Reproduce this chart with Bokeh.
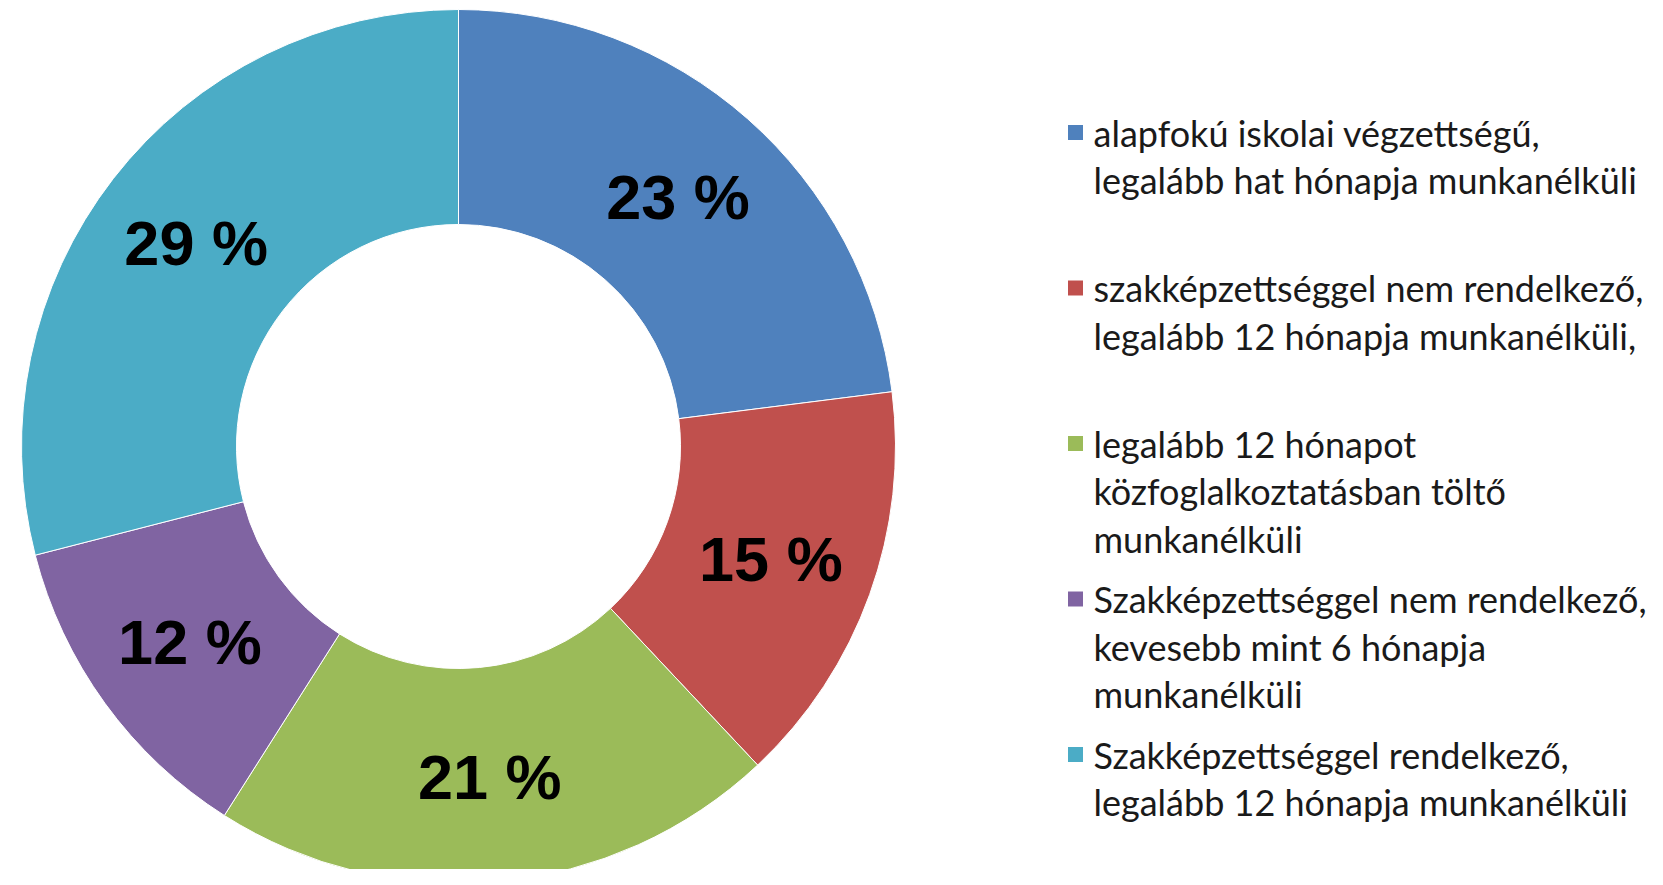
import math
from bokeh.plotting import figure
from bokeh.models import Range1d, ColumnDataSource
from bokeh.core.properties import value
from bokeh.embed import file_html
from bokeh.resources import INLINE

# ---- data ----
categories = [
    "alapfokú iskolai végzettségű,\nlegalább hat hónapja munkanélküli",
    "szakképzettséggel nem rendelkező,\nlegalább 12 hónapja munkanélküli,",
    "legalább 12 hónapot\nközfoglalkoztatásban töltő\nmunkanélküli",
    "Szakképzettséggel nem rendelkező,\nkevesebb mint 6 hónapja\nmunkanélküli",
    "Szakképzettséggel rendelkező,\nlegalább 12 hónapja munkanélküli",
]
shares = [23, 15, 21, 12, 29]
colors = ["#4F81BD", "#C0504D", "#9BBB59", "#8064A2", "#4BACC6"]

# ---- layout ----
W, H = 1647, 869
CX, CY = 458, 423
R_OUT, R_IN = 437, 222
R_LAB = 332

total = sum(shares)
starts, ends, mids = [], [], []
acc = 0.0
for s in shares:
    a0 = math.pi / 2 - 2 * math.pi * acc / total
    acc += s
    a1 = math.pi / 2 - 2 * math.pi * acc / total
    starts.append(a0)
    ends.append(a1)
    mids.append((a0 + a1) / 2)

src = ColumnDataSource(dict(start=starts, end=ends, color=colors))

p = figure(width=W, height=H, x_range=Range1d(0, W), y_range=Range1d(0, H),
           output_backend="svg", toolbar_location=None, min_border=0)
p.axis.visible = False
p.grid.visible = False
p.outline_line_color = None
p.background_fill_color = "white"
p.border_fill_color = "white"

p.annular_wedge(x=CX, y=CY, inner_radius=R_IN, outer_radius=R_OUT,
                start_angle="start", end_angle="end", direction="clock",
                fill_color="color", line_color="white", line_width=1, source=src)

lab_src = ColumnDataSource(dict(
    x=[CX + R_LAB * math.cos(m) for m in mids],
    y=[CY + R_LAB * math.sin(m) for m in mids],
    t=[f"{s} %" for s in shares],
))
p.text(x="x", y="y", text="t", source=lab_src, text_align="center",
       text_baseline="middle", text_font=value("Liberation Sans"),
       text_font_style="bold", text_font_size="63px", text_color="black")

# ---- legend (manual) ----
LEG_TOP = 737
LEG_STEP = 155.5
LINE_H = 47.5
SQ_X = 1075
TXT_X = 1093

sq_y = [LEG_TOP - i * LEG_STEP for i in range(len(categories))]
p.scatter(x=[SQ_X] * len(categories), y=sq_y, marker="square", size=15,
          fill_color=colors, line_color=None)

lx, ly, lt = [], [], []
for i, c in enumerate(categories):
    for j, line in enumerate(c.split("\n")):
        lx.append(TXT_X)
        ly.append(sq_y[i] - j * LINE_H)
        lt.append(line)
p.text(x=lx, y=ly, text=lt, text_align="left", text_baseline="middle",
       text_font=value("Lato"), text_font_size="36px", text_color="#1a1a1a")

open("out.html", "w").write(file_html(p, INLINE))
